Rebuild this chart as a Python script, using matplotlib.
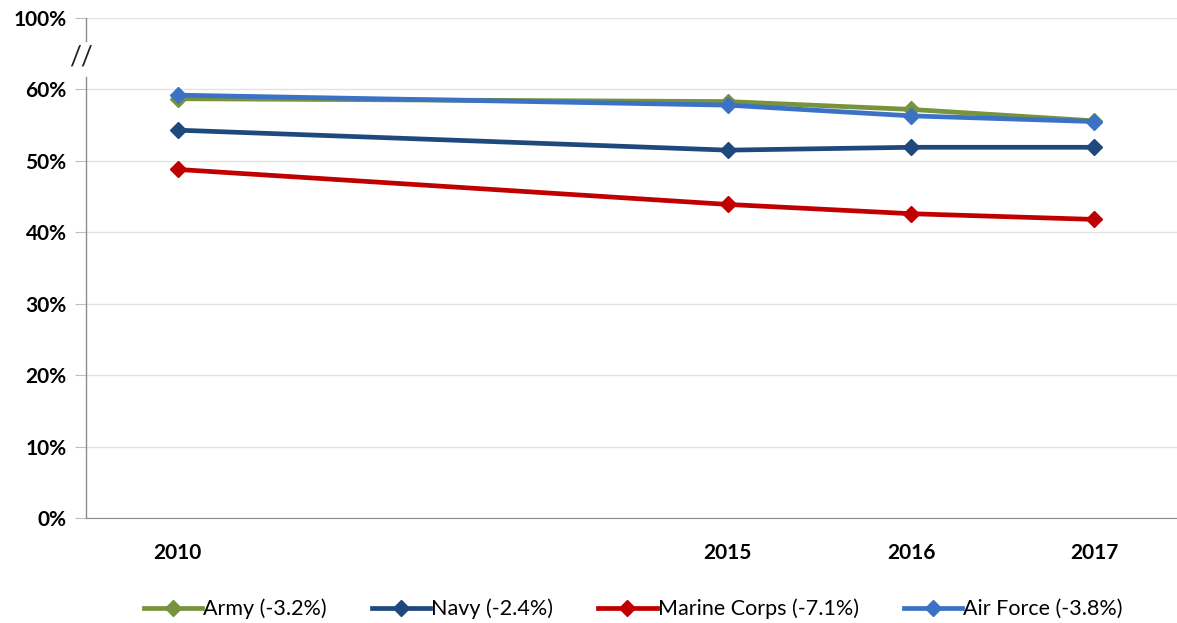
import matplotlib
matplotlib.use("Agg")
import matplotlib.pyplot as plt
from matplotlib.lines import Line2D

plt.rcParams.update({
    "font.family": ["Lato", "DejaVu Sans"],
})

years = ["2010", "2015", "2016", "2017"]
year_pos = [0, 3, 4, 5]  # gap between 2010 and 2015 as in the original

army = [58.7, 58.3, 57.2, 55.6]
navy = [54.3, 51.5, 51.9, 51.9]
marine = [48.8, 43.9, 42.6, 41.8]
air_force = [59.2, 57.8, 56.3, 55.5]

series = [
    ("Army (-3.2%)", army, "#77933C"),
    ("Navy (-2.4%)", navy, "#1F497D"),
    ("Marine Corps (-7.1%)", marine, "#C00000"),
    ("Air Force (-3.8%)", air_force, "#3B72C6"),
]

ytick_vals = [0, 10, 20, 30, 40, 50, 60, 70]
ytick_labels = ["0%", "10%", "20%", "30%", "40%", "50%", "60%", "100%"]

fig = plt.figure(figsize=(11.77, 6.23), dpi=100)
ax = fig.add_axes([86 / 1177, 1 - 518 / 623, 1 - 86 / 1177, (518 - 18) / 623])

for label, vals, color in series:
    ax.plot(year_pos, vals, color=color, lw=3.4, marker="D", ms=8.5,
            label=label, solid_capstyle="round", zorder=3)

ax.set_xlim(-0.5, 5.45)
ax.set_ylim(0, 70)
ax.set_xticks(year_pos)
ax.set_xticklabels(years, fontsize=15, fontweight="bold")
ax.set_yticks(ytick_vals)
ax.set_yticklabels(ytick_labels, fontsize=15, fontweight="bold")
ax.tick_params(axis="x", length=0, pad=18)
ax.tick_params(axis="y", length=8, color="#bfbfbf", pad=6)
ax.grid(axis="y", color="#e3e3e3", lw=1)
ax.set_axisbelow(True)

for side in ["top", "right", "left"]:
    ax.spines[side].set_visible(False)
ax.spines["bottom"].set_color("#8c8c8c")

# broken left axis
ax.plot([-0.5, -0.5], [0, 61.8], color="#8c8c8c", lw=1, clip_on=False, zorder=2)
ax.plot([-0.5, -0.5], [66.8, 70], color="#8c8c8c", lw=1, clip_on=False, zorder=2)
ax.text(-0.53, 64.5, "//", ha="center", va="center", fontsize=19, color="#222222",
        transform=ax.transData, clip_on=False)

handles = [Line2D([0], [0], color=c, lw=3.4, marker="D", ms=8.5) for _, _, c in series]
fig.legend(handles, [s[0] for s in series], loc="center", bbox_to_anchor=(0.538, 1 - 609 / 623),
           ncol=4, frameon=False, fontsize=15.5, handlelength=2.7, handletextpad=0.05,
           columnspacing=2.1)

fig.savefig("out.png", dpi=100, facecolor="white")
